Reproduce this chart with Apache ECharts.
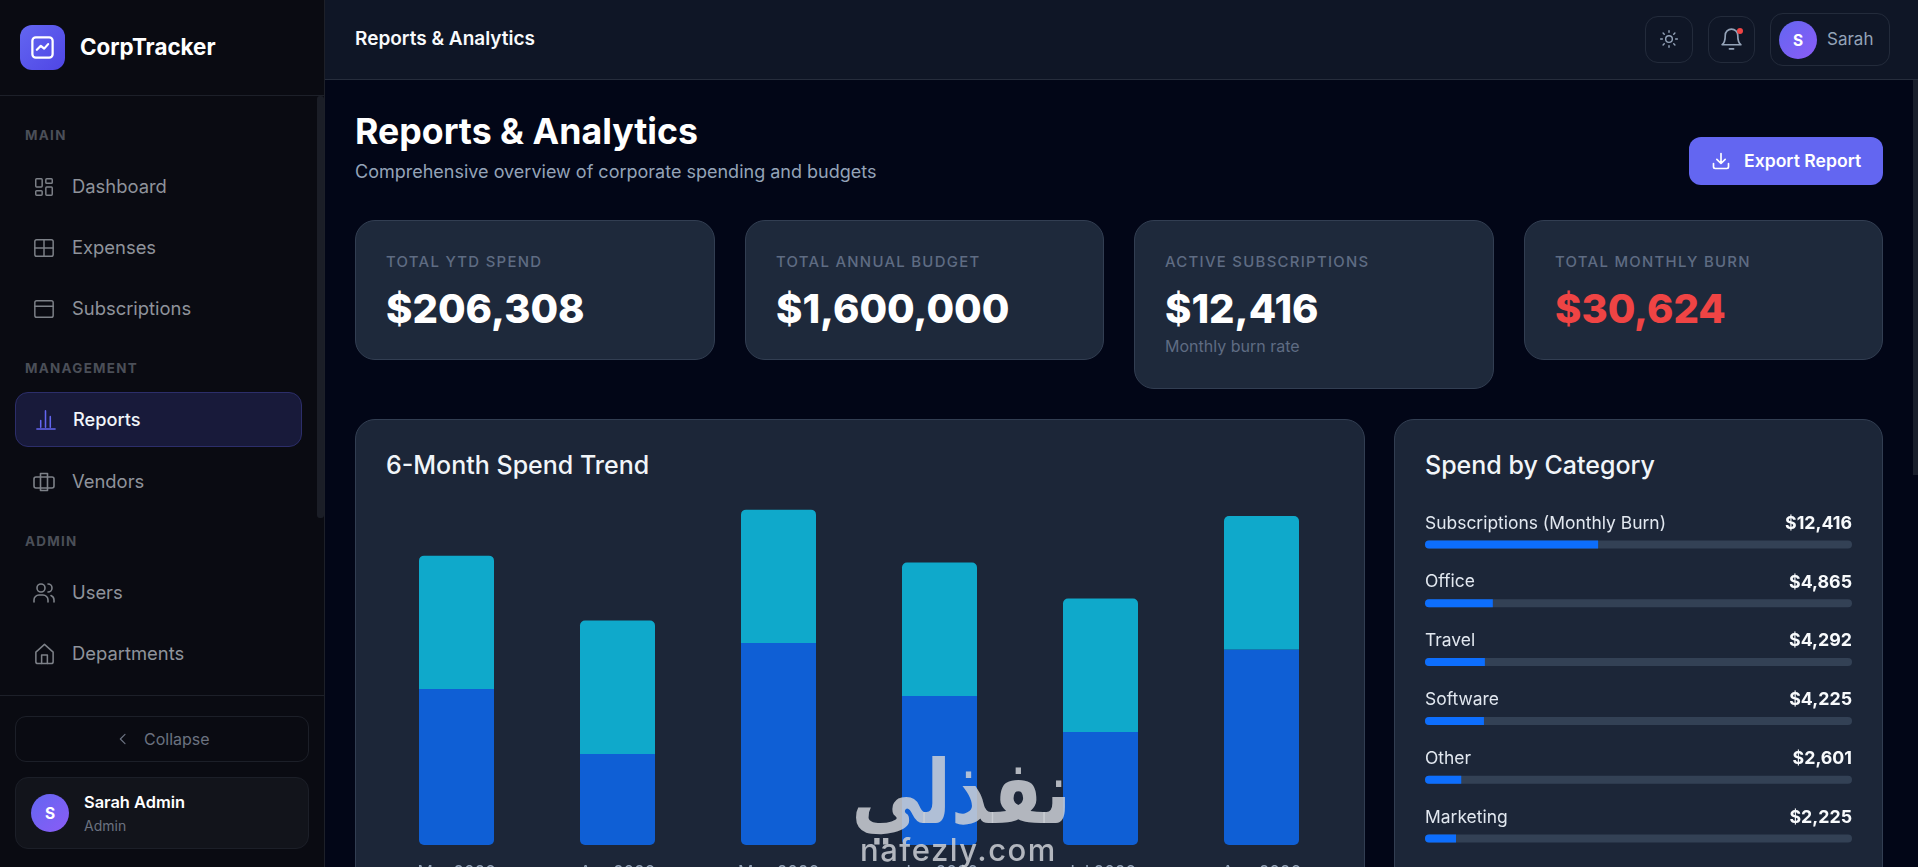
<!DOCTYPE html>
<html><head><meta charset="utf-8"><title>Reports &amp; Analytics</title>
<script src="https://cdn.jsdelivr.net/npm/echarts@6/dist/echarts.min.js"></script>
<style>
*{box-sizing:border-box}
html,body{margin:0;width:1918px;height:867px;overflow:hidden;background:#020617;font-family:Inter,"Noto Sans",sans-serif}
.a{position:absolute}
.t{position:absolute;line-height:1;transform:translateY(-50%);white-space:nowrap}
.nav{font-size:18.4px;color:#8f939b;font-weight:400}
.sec{font-size:13.4px;font-weight:700;letter-spacing:1.3px;color:#4b4f58;left:25px}
.ic{position:absolute;fill:none;stroke:currentColor;stroke-width:2;stroke-linecap:round;stroke-linejoin:round}
.card{position:absolute;background:#1e293b;border:1px solid #323e52;border-radius:20px}
.lab{font-size:14.9px;letter-spacing:1.3px;color:#5f6c83;font-weight:500}
.val{font-size:40px;font-weight:800;color:#fff}
.av{position:absolute;border-radius:50%;background:linear-gradient(135deg,#6366f1,#8b5cf6);color:#fff;font-weight:700;font-size:15.5px;display:flex;align-items:center;justify-content:center}
.btn{position:absolute;border:1px solid #232b3b;border-radius:13px}
.h{font-size:25px;font-weight:500;color:#f1f5f9}
</style></head><body>
<!-- sidebar -->
<div class="a" style="left:0;top:0;width:325px;height:867px;background:#0a0b12;border-right:1px solid #1d2029"></div>
<div class="a" style="left:0;top:95px;width:325px;height:1px;background:#1d2029"></div>
<div class="a" style="left:317px;top:96px;width:7px;height:422px;background:#1b1e27;border-radius:3px"></div>
<div class="a" style="left:20px;top:25px;width:45px;height:45px;border-radius:12px;background:linear-gradient(135deg,#6366f1,#4f46e5);color:#fff"><svg class="ic" style="left:9px;top:9px" width="27" height="27" viewBox="0 0 24 24"><rect x="3" y="3" width="18" height="18" rx="3"/><path d="M7 14l3.5-3.5 3 2.5L17 9"/></svg></div>
<div class="t" style="left:80px;top:47px;font-size:22.4px;font-weight:700;color:#fff">CorpTracker</div>
<div class="t sec" style="top:136px">MAIN</div>
<svg class="ic" style="left:33px;top:176px;color:#7d8188;stroke-width:1.6" width="22" height="22" viewBox="0 0 24 24"><rect x="3" y="3" width="7" height="9" rx="1"/><rect x="14" y="3" width="7" height="5" rx="1"/><rect x="14" y="12" width="7" height="9" rx="1"/><rect x="3" y="16" width="7" height="5" rx="1"/></svg>
<div class="t nav" style="left:72px;top:186.400px">Dashboard</div>
<svg class="ic" style="left:32px;top:237px;color:#7d8188;stroke-width:1.6" width="24" height="22" viewBox="0 0 24 24"><rect x="2" y="3" width="20" height="18" rx="2"/><path d="M12 3v18M2 12h20"/></svg>
<div class="t nav" style="left:72px;top:247.400px">Expenses</div>
<svg class="ic" style="left:32px;top:298px;color:#7d8188;stroke-width:1.6" width="24" height="22" viewBox="0 0 24 24"><rect x="2" y="3" width="20" height="18" rx="2"/><path d="M2 9h20"/></svg>
<div class="t nav" style="left:72px;top:308.400px">Subscriptions</div>
<div class="t sec" style="top:369px">MANAGEMENT</div>
<div class="a" style="left:15px;top:392px;width:287px;height:55px;border-radius:13px;background:#181a3a;border:1px solid #2c2e6a"></div>
<svg class="ic" style="left:34px;top:408px;color:#6366f1;stroke-width:1.6" width="23" height="23" viewBox="0 0 24 24"><path d="M3 22h19M7 20v-7M12 20V3M17 20V9"/></svg>
<div class="t" style="left:73px;top:419.400px;font-size:18.2px;font-weight:500;color:#f1f5f9">Reports</div>
<svg class="ic" style="left:32px;top:470px;color:#7d8188;stroke-width:1.6" width="24" height="24" viewBox="0 0 24 24"><rect x="2" y="7" width="20" height="11" rx="2"/><path d="M8.5 3.5v17M15.5 3.5v17M8.5 3.5h7M8.5 20.500h7"/></svg>
<div class="t nav" style="left:72px;top:481.400px">Vendors</div>
<div class="t sec" style="top:542px">ADMIN</div>
<svg class="ic" style="left:32px;top:581px;color:#7d8188;stroke-width:1.6" width="24" height="24" viewBox="0 0 24 24"><circle cx="9" cy="7" r="4"/><path d="M2 21v-2a5 5 0 0 1 5-5h4a5 5 0 0 1 5 5v2M16 3a4 4 0 0 1 0 8M22 21v-2a5 5 0 0 0-3-4.5"/></svg>
<div class="t nav" style="left:72px;top:592.400px">Users</div>
<svg class="ic" style="left:33px;top:642px;color:#7d8188;stroke-width:1.6" width="23" height="24" viewBox="0 0 24 24"><path d="M3 10l9-8 9 8v10a2 2 0 0 1-2 2H5a2 2 0 0 1-2-2z"/><path d="M9 22v-9h6v9"/></svg>
<div class="t nav" style="left:72px;top:653.400px">Departments</div>
<div class="a" style="left:0;top:695px;width:324px;height:1px;background:#1d2029"></div>
<div class="a" style="left:15px;top:716px;width:294px;height:46px;border:1px solid #1c1f28;border-radius:11px"></div>
<svg class="ic" style="left:115px;top:731px;color:#6b7280;stroke-width:1.8" width="16" height="16" viewBox="0 0 24 24"><path d="M15 5l-7 7 7 7"/></svg>
<div class="t" style="left:144px;top:739px;font-size:16px;color:#6b7280">Collapse</div>
<div class="a" style="left:15px;top:777px;width:294px;height:72px;background:#12141b;border:1px solid #1c1f28;border-radius:13px"></div>
<div class="av" style="left:31px;top:794px;width:38px;height:38px">S</div>
<div class="t" style="left:84px;top:802px;font-size:16.4px;font-weight:600;color:#fff">Sarah Admin</div>
<div class="t" style="left:84px;top:826px;font-size:14px;color:#6b7280">Admin</div>
<!-- topbar -->
<div class="a" style="left:325px;top:0;width:1593px;height:80px;background:#0f1626;border-bottom:1px solid #262d3c"></div>
<div class="t" style="left:355px;top:38px;font-size:19px;font-weight:600;color:#f8fafc">Reports &amp; Analytics</div>
<div class="btn" style="left:1645px;top:16px;width:48px;height:47px"></div>
<svg class="ic" style="left:1659px;top:29px;color:#94a3b8;stroke-width:1.7" width="20" height="20" viewBox="0 0 24 24"><circle cx="12" cy="12" r="4"/><path d="M12 2v2M12 20v2M4.9 4.9l1.4 1.4M17.7 17.7l1.4 1.4M2 12h2M20 12h2M4.9 19.1l1.4-1.4M17.7 6.3l1.4-1.4"/></svg>
<div class="btn" style="left:1708px;top:16px;width:47px;height:47px"></div>
<svg class="ic" style="left:1719px;top:27px;color:#94a3b8;stroke-width:1.6" width="25" height="25" viewBox="0 0 24 24"><path d="M6 8a6 6 0 0 1 12 0c0 7 3 9 3 9H3s3-2 3-9"/><path d="M10 21h4"/></svg>
<div class="a" style="left:1737px;top:28px;width:6px;height:6px;border-radius:50%;background:#ef4444"></div>
<div class="btn" style="left:1770px;top:13px;width:120px;height:53px"></div>
<div class="av" style="left:1779px;top:21px;width:38px;height:38px">S</div>
<div class="t" style="left:1827px;top:39px;font-size:17px;color:#94a3b8">Sarah</div>
<div class="a" style="left:1913px;top:80px;width:5px;height:395px;background:#1a1f2c"></div>
<!-- header -->
<div class="t" style="left:355px;top:132px;font-size:35.7px;font-weight:700;color:#fff">Reports &amp; Analytics</div>
<div class="t" style="left:355px;top:172px;font-size:18px;color:#94a3b8">Comprehensive overview of corporate spending and budgets</div>
<div class="a" style="left:1689px;top:137px;width:194px;height:48px;border-radius:12px;background:#6366f1"></div>
<svg class="ic" style="left:1711px;top:151px;color:#fff" width="20" height="20" viewBox="0 0 24 24"><path d="M3 15v4a2 2 0 0 0 2 2h14a2 2 0 0 0 2-2v-4M7 10l5 5 5-5M12 15V3"/></svg>
<div class="t" style="left:1744px;top:161px;font-size:17.6px;font-weight:600;color:#fff">Export Report</div>
<!-- stat cards -->
<div class="card" style="left:355px;top:220px;width:360px;height:140px"></div>
<div class="t lab" style="left:386px;top:262px">TOTAL YTD SPEND</div>
<div class="t val" style="left:386px;top:309px">$206,308</div>
<div class="card" style="left:745px;top:220px;width:359px;height:140px"></div>
<div class="t lab" style="left:776px;top:262px">TOTAL ANNUAL BUDGET</div>
<div class="t val" style="left:776px;top:309px">$1,600,000</div>
<div class="card" style="left:1134px;top:220px;width:360px;height:169px"></div>
<div class="t lab" style="left:1165px;top:262px">ACTIVE SUBSCRIPTIONS</div>
<div class="t val" style="left:1165px;top:309px">$12,416</div>
<div class="t" style="left:1165px;top:346px;font-size:16px;color:#5f6c83">Monthly burn rate</div>
<div class="card" style="left:1524px;top:220px;width:359px;height:140px"></div>
<div class="t lab" style="left:1555px;top:262px">TOTAL MONTHLY BURN</div>
<div class="t val" style="left:1555px;top:309px;color:#ef4444">$30,624</div>
<!-- chart cards -->
<div class="card" style="left:355px;top:419px;width:1010px;height:520px;background:#1c2638"></div>
<div class="t h" style="left:386px;top:465px">6-Month Spend Trend</div>
<div class="card" style="left:1394px;top:419px;width:489px;height:520px;background:#1c2638"></div>
<div class="t h" style="left:1425px;top:465px">Spend by Category</div>
<div id="chart" class="a" style="left:355px;top:419px;width:1528px;height:480px"></div>
<!-- source watermark carried by the reference -->
<div class="t" dir="rtl" style="left:848px;top:792px;font-family:'DejaVu Sans';font-size:74px;font-weight:700;color:rgba(205,208,214,.85);transform:translateY(-50%) scale(.97,1.2)">نفذلي</div>
<div class="t" style="left:860px;top:849px;font-size:31px;font-weight:500;letter-spacing:1.5px;color:rgba(205,208,214,.85)">nafezly.com</div>
<script>
const months = ['Mar 2026','Apr 2026','May 2026','Jun 2026','Jul 2026','Aug 2026'];
const expenseSpend = [14520, 8470, 18800, 13870, 10520, 18208];
const subscriptionSpend = [12416, 12416, 12416, 12416, 12416, 12416];
const categories = ['Subscriptions (Monthly Burn)','Office','Travel','Software','Other','Marketing'];
const categorySpend = [12416, 4865, 4292, 4225, 2601, 2225];
const totalBurn = categorySpend.reduce((a,b)=>a+b,0);
const money = v => '$' + v.toLocaleString('en-US');
const FONT = 'Inter';
const above = v => v + '\n\n';
const chart = echarts.init(document.getElementById('chart'), null, {renderer:'canvas'});
chart.setOption({
  animation:false,
  grid:[
    {left:21, top:50, width:966, height:376},
    {left:1070, top:96, width:427, height:353}
  ],
  xAxis:[
    {gridIndex:0, type:'category', data:months, axisLine:{show:false}, axisTick:{show:false},
     axisLabel:{color:'#94a3b8', fontFamily:FONT, fontSize:17, margin:19}},
    {gridIndex:1, type:'value', min:0, max:totalBurn, show:false}
  ],
  yAxis:[
    {gridIndex:0, type:'value', min:0, max:35000, show:false},
    {gridIndex:1, type:'category', inverse:true, data:categories, axisLine:{show:false}, axisTick:{show:false},
     axisLabel:{inside:true, interval:0, align:'left', verticalAlign:'middle', lineHeight:21, margin:0, formatter:above,
       color:'#e2e8f0', fontFamily:FONT, fontSize:17.45}},
    {gridIndex:1, type:'category', inverse:true, position:'right', data:categorySpend.map(money), axisLine:{show:false}, axisTick:{show:false},
     axisLabel:{inside:true, interval:0, align:'right', verticalAlign:'middle', lineHeight:21, margin:0, formatter:above,
       color:'#f8fafc', fontFamily:FONT, fontSize:17.8, fontWeight:700}}
  ],
  series:[
    {name:'Expenses', type:'bar', stack:'spend', xAxisIndex:0, yAxisIndex:0, barWidth:75, data:expenseSpend,
     itemStyle:{color:'rgba(13,110,253,0.8)', borderRadius:[0,0,5,5]}},
    {name:'Subscriptions', type:'bar', stack:'spend', xAxisIndex:0, yAxisIndex:0, barWidth:75, data:subscriptionSpend,
     itemStyle:{color:'rgba(13,202,240,0.8)', borderRadius:[5,5,0,0]}},
    {name:'Category', type:'bar', xAxisIndex:1, yAxisIndex:1, barWidth:8, data:categorySpend,
     showBackground:true, backgroundStyle:{color:'#334155', borderRadius:4},
     itemStyle:{color:'#0d6efd', borderRadius:[4,0,0,4]}}
  ]
});
</script>
</body></html>
